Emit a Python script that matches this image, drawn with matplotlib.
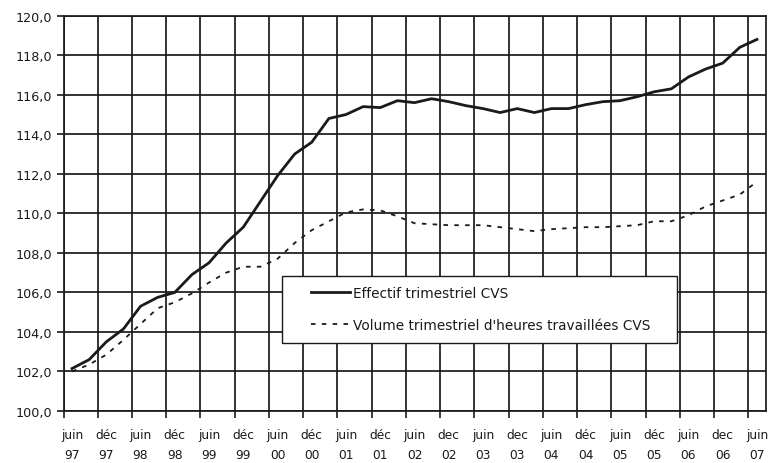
import matplotlib
matplotlib.use("Agg")
import matplotlib.pyplot as plt
from matplotlib.patches import Rectangle
import numpy as np

# ---- data ----
tick_labels = ["juin\n97", "déc\n97", "juin\n98", "déc\n98", "juin\n99", "déc\n99",
               "juin\n00", "déc\n00", "juin\n01", "déc\n01", "juin\n02", "dec\n02",
               "juin\n03", "dec\n03", "juin\n04", "déc\n04", "juin\n05", "déc\n05",
               "juin\n06", "dec\n06", "juin\n07"]

effectif = [102.15, 102.6, 103.5, 104.15, 105.3, 105.75, 106.0, 106.9, 107.5, 108.5,
            109.3, 110.6, 111.9, 113.0, 113.6, 114.8, 115.0, 115.4, 115.35, 115.7,
            115.6, 115.8, 115.65, 115.45, 115.3, 115.1, 115.3, 115.1, 115.3, 115.3,
            115.5, 115.65, 115.7, 115.9, 116.15, 116.3, 116.9, 117.3, 117.6, 118.4,
            118.8]

volume = [102.0, 102.35, 102.85, 103.6, 104.4, 105.2, 105.5, 105.95, 106.5, 107.0,
          107.3, 107.3, 107.7, 108.5, 109.15, 109.6, 110.05, 110.2, 110.15, 109.85,
          109.5, 109.45, 109.4, 109.4, 109.4, 109.3, 109.2, 109.1, 109.2, 109.25,
          109.3, 109.3, 109.35, 109.4, 109.6, 109.6, 109.9, 110.35, 110.65, 110.95,
          111.6]

label_effectif = "Effectif trimestriel CVS"
label_volume = "Volume trimestriel d'heures travaillées CVS"

y_ticks = [100, 102, 104, 106, 108, 110, 112, 114, 116, 118, 120]

# ---- figure ----
W, H = 771, 464
fig = plt.figure(figsize=(W / 100, H / 100), dpi=100)
left, right, top, bottom = 63.5, 765.5, 16.7, 412
ax = fig.add_axes([left / W, 1 - bottom / H, (right - left) / W, (bottom - top) / H])

ink = "#1a1a1a"
x = np.arange(len(effectif))

ax.plot(x, effectif, color=ink, lw=2.0, zorder=5, label=label_effectif,
        solid_joinstyle="round")
ax.plot(x, volume, color=ink, lw=1.3, ls=(0, (2.5, 3.5)), zorder=5, label=label_volume)

ax.set_xlim(-0.5, len(effectif) - 0.5)
ax.set_ylim(100, 120)

# category gridlines between categories every 2 quarters
ax.set_xticks(np.arange(-0.5, len(effectif) - 1, 2), minor=True)
ax.set_xticks(np.arange(0, len(effectif), 2))
ax.set_xticklabels(tick_labels, fontsize=8.8, color=ink, linespacing=1.7)
ax.tick_params(axis="x", which="major", length=0, pad=12)
ax.tick_params(axis="x", which="minor", length=5, width=1.2, color=ink, direction="out")
ax.grid(True, which="minor", axis="x", color=ink, lw=1.25, zorder=1)

ax.set_yticks(y_ticks)
ax.set_yticklabels([f"{v:.1f}".replace(".", ",") for v in y_ticks], fontsize=9.2, color=ink)
ax.tick_params(axis="y", length=5, width=1.2, color=ink, direction="out", pad=3)
ax.grid(True, which="major", axis="y", color=ink, lw=1.25, zorder=1)
ax.set_axisbelow(True)

for s in ax.spines.values():
    s.set_color(ink)
    s.set_linewidth(1.25)

# legend box
rect = Rectangle((282 / W, 1 - 344 / H), (677 - 282) / W, (344 - 277) / H,
                 transform=fig.transFigure, facecolor="white", edgecolor=ink,
                 lw=1.0, zorder=3)
fig.patches.append(rect)
leg = fig.legend(loc="upper left", bbox_to_anchor=(311 / W, 1 - 287 / H),
                 frameon=False, fontsize=9.8, handlelength=2.9, handletextpad=0.2,
                 labelspacing=1.3, borderpad=0, borderaxespad=0)
for t in leg.get_texts():
    t.set_color(ink)
leg.set_zorder(6)

fig.savefig("out.png", dpi=100)
